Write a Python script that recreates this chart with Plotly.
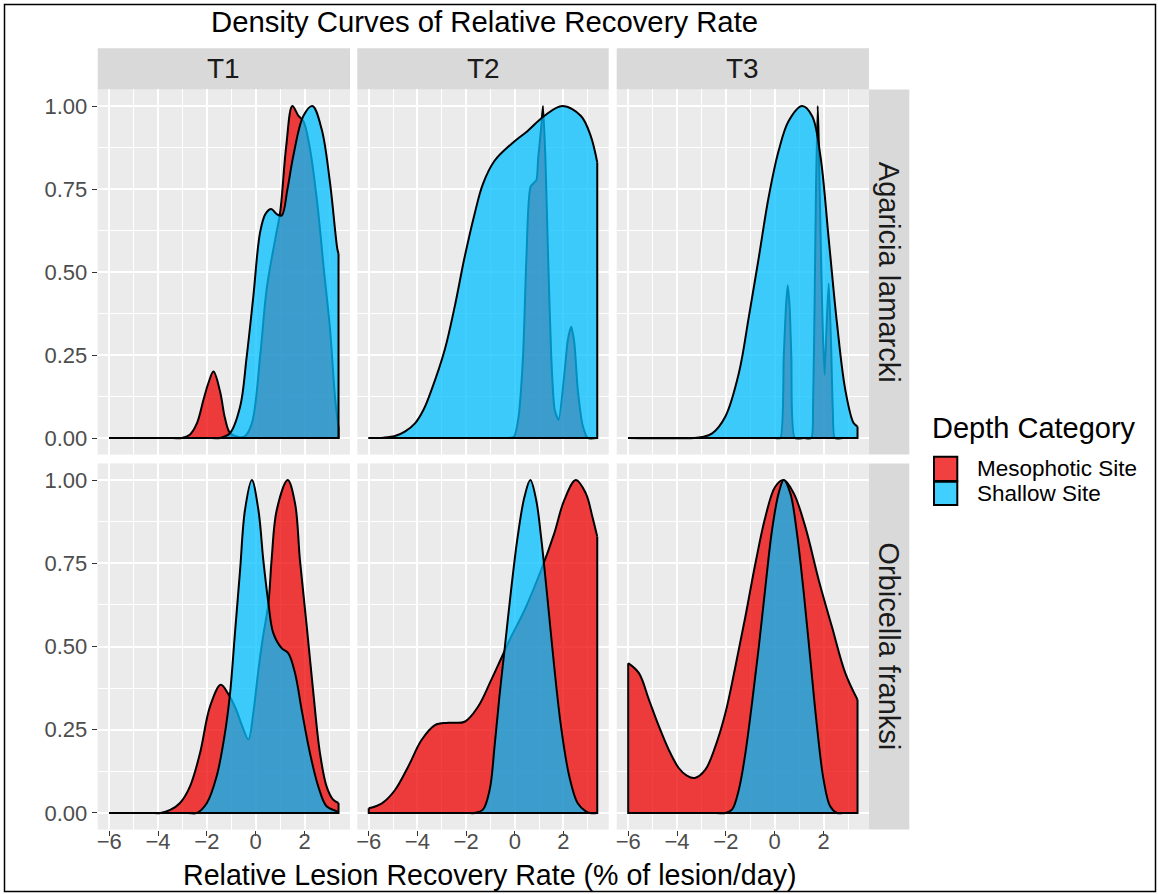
import plotly.graph_objects as go

# ---- density curves (scaled so each peak = 1) ----
# Agaricia lamarcki
A_T1_MESO_X = [-6.0, -3.4, -3.03, -2.7, -2.41, -2.14, -1.94, -1.73, -1.46, -1.26, -1.05, -0.7, -0.45, -0.16, 0.18, 0.45, 0.8, 1.0, 1.25, 1.5, 1.75, 1.95, 2.2, 2.5, 2.8, 3.04, 3.25, 3.39]
A_T1_MESO_Y = [0.0, 0.0, 0.0, 0.01, 0.044, 0.115, 0.165, 0.20, 0.14, 0.06, 0.015, 0.003, 0.005, 0.044, 0.245, 0.45, 0.60, 0.68, 0.88, 1.0, 0.97, 0.955, 0.88, 0.72, 0.5, 0.33, 0.12, 0.03]
A_T1_SHAL_X = [-6.0, -1.8, -1.46, -1.05, -0.64, -0.37, -0.1, 0.18, 0.4, 0.63, 0.85, 1.06, 1.3, 1.54, 1.95, 2.32, 2.7, 3.04, 3.34, 3.39]
A_T1_SHAL_Y = [0.0, 0.0, 0.0, 0.015, 0.094, 0.245, 0.425, 0.62, 0.675, 0.69, 0.675, 0.67, 0.75, 0.85, 0.97, 1.0, 0.93, 0.77, 0.57, 0.555]

A_T2_MESO_X = [-6.0, -0.6, -0.3, -0.03, 0.15, 0.34, 0.48, 0.65, 0.89, 0.96, 1.09, 1.16, 1.26, 1.37, 1.50, 1.64, 1.80, 2.04, 2.18, 2.32, 2.45, 2.59, 2.8, 3.0, 3.39]
A_T2_MESO_Y = [0.0, 0.0, 0.0, 0.004, 0.06, 0.245, 0.546, 0.757, 0.777, 0.84, 0.94, 1.0, 0.84, 0.546, 0.245, 0.085, 0.055, 0.195, 0.295, 0.335, 0.285, 0.145, 0.035, 0.0, 0.0]
A_T2_SHAL_X = [-6.0, -5.4, -4.92, -4.5, -4.1, -3.75, -3.42, -2.88, -2.47, -2.06, -1.65, -1.31, -0.83, -0.15, 0.53, 1.21, 1.96, 2.72, 3.12, 3.39]
A_T2_SHAL_Y = [0.0, 0.001, 0.006, 0.02, 0.044, 0.085, 0.145, 0.265, 0.395, 0.545, 0.675, 0.765, 0.835, 0.885, 0.925, 0.97, 1.0, 0.97, 0.91, 0.83]

A_T3_MESO_X = [-6.0, 0.0, 0.23, 0.37, 0.46, 0.53, 0.61, 0.68, 0.82, 1.2, 1.50, 1.57, 1.64, 1.69, 1.76, 1.80, 1.88, 1.96, 2.04, 2.12, 2.21, 2.30, 2.38, 2.46, 2.8, 3.39]
A_T3_MESO_Y = [0.0, 0.0, 0.0, 0.245, 0.395, 0.46, 0.395, 0.245, 0.0, 0.0, 0.0, 0.1, 0.45, 0.75, 1.0, 0.9, 0.6, 0.345, 0.19, 0.33, 0.465, 0.3, 0.08, 0.0, 0.0, 0.0]
A_T3_SHAL_X = [-6.0, -3.3, -2.97, -2.56, -2.02, -1.47, -1.06, -0.65, -0.25, 0.16, 0.57, 1.12, 1.53, 1.87, 2.21, 2.55, 2.89, 3.23, 3.39]
A_T3_SHAL_Y = [0.0, 0.0, 0.003, 0.014, 0.065, 0.195, 0.365, 0.545, 0.725, 0.865, 0.955, 1.0, 0.97, 0.85, 0.6, 0.345, 0.145, 0.045, 0.035]

# Orbicella franksi
O_T1_MESO_X = [-6.0, -4.3, -3.9, -3.5, -3.1, -2.69, -2.28, -1.87, -1.43, -1.12, -0.8, -0.55, -0.3, -0.1, 0.11, 0.3, 0.52, 0.65, 0.86, 1.31, 1.61, 1.81, 2.09, 2.36, 2.63, 2.9, 3.17, 3.39]
O_T1_MESO_Y = [0.0, 0.0, 0.0, 0.009, 0.03, 0.08, 0.18, 0.32, 0.385, 0.357, 0.31, 0.26, 0.221, 0.3, 0.43, 0.53, 0.63, 0.76, 0.91, 1.0, 0.93, 0.76, 0.56, 0.36, 0.18, 0.08, 0.04, 0.03]
O_T1_SHAL_X = [-6.0, -2.8, -2.41, -2.0, -1.6, -1.26, -1.05, -0.85, -0.64, -0.44, -0.16, 0.11, 0.31, 0.52, 0.72, 1.06, 1.33, 1.61, 1.88, 2.22, 2.56, 2.9, 3.31, 3.39]
O_T1_SHAL_Y = [0.0, 0.0, 0.0, 0.03, 0.11, 0.24, 0.36, 0.54, 0.73, 0.91, 1.0, 0.91, 0.76, 0.63, 0.54, 0.495, 0.48, 0.42, 0.31, 0.18, 0.08, 0.02, 0.005, 0.0]

O_T2_MESO_X = [-6.0, -5.46, -4.92, -4.38, -3.83, -3.28, -2.74, -2.06, -1.51, -0.97, -0.56, -0.15, 0.4, 1.08, 1.62, 2.03, 2.51, 2.92, 3.19, 3.39]
O_T2_MESO_Y = [0.014, 0.029, 0.069, 0.139, 0.219, 0.264, 0.271, 0.274, 0.319, 0.399, 0.464, 0.529, 0.609, 0.729, 0.839, 0.939, 1.0, 0.96, 0.89, 0.83]
O_T2_SHAL_X = [-6.0, -2.0, -1.65, -1.31, -1.03, -0.83, -0.63, -0.42, -0.15, 0.12, 0.4, 0.64, 0.88, 1.08, 1.35, 1.62, 1.9, 2.24, 2.58, 2.92, 3.1, 3.39]
O_T2_SHAL_Y = [0.0, 0.0, 0.0, 0.01, 0.07, 0.2, 0.35, 0.49, 0.67, 0.83, 0.95, 1.0, 0.94, 0.83, 0.64, 0.44, 0.26, 0.11, 0.03, 0.005, 0.0, 0.0]

O_T3_MESO_X = [-6.0, -5.56, -5.15, -4.74, -4.34, -3.93, -3.6, -3.27, -2.84, -2.43, -2.02, -1.61, -1.2, -0.79, -0.38, 0.02, 0.37, 0.78, 1.25, 1.8, 2.34, 2.89, 3.39]
O_T3_MESO_Y = [0.45, 0.42, 0.34, 0.26, 0.19, 0.135, 0.112, 0.105, 0.13, 0.2, 0.3, 0.44, 0.59, 0.75, 0.89, 0.98, 1.0, 0.96, 0.86, 0.7, 0.56, 0.42, 0.34]
O_T3_SHAL_X = [-6.0, -2.4, -2.02, -1.75, -1.47, -1.2, -0.93, -0.65, -0.38, -0.11, 0.16, 0.37, 0.64, 0.91, 1.19, 1.46, 1.73, 2.0, 2.27, 2.55, 2.8, 3.39]
O_T3_SHAL_Y = [0.0, 0.0, 0.0, 0.01, 0.07, 0.18, 0.33, 0.5, 0.68, 0.85, 0.96, 1.0, 0.96, 0.84, 0.66, 0.46, 0.26, 0.1, 0.02, 0.0, 0.0, 0.0]

TIMES = ["T1", "T2", "T3"]
SPECIES = ["Agaricia lamarcki", "Orbicella franksi"]
GROUPS = ["Mesophotic Site", "Shallow Site"]
X_TICKS = [-6, -4, -2, 0, 2]
Y_TICKS = [0, 0.25, 0.5, 0.75, 1.0]
Y_TICK_TEXT = ["0.00", "0.25", "0.50", "0.75", "1.00"]

PANELS = [
    [(A_T1_MESO_X, A_T1_MESO_Y, A_T1_SHAL_X, A_T1_SHAL_Y),
     (A_T2_MESO_X, A_T2_MESO_Y, A_T2_SHAL_X, A_T2_SHAL_Y),
     (A_T3_MESO_X, A_T3_MESO_Y, A_T3_SHAL_X, A_T3_SHAL_Y)],
    [(O_T1_MESO_X, O_T1_MESO_Y, O_T1_SHAL_X, O_T1_SHAL_Y),
     (O_T2_MESO_X, O_T2_MESO_Y, O_T2_SHAL_X, O_T2_SHAL_Y),
     (O_T3_MESO_X, O_T3_MESO_Y, O_T3_SHAL_X, O_T3_SHAL_Y)],
]
# sharper curves get a lighter spline smoothing
SPIKY = {(0, 1), (0, 2)}

W, H = 1158, 894
FONT = "Liberation Sans, Arial, sans-serif"
FILL = {"Mesophotic Site": "rgba(238,0,0,0.75)", "Shallow Site": "rgba(0,191,255,0.75)"}
PANEL_BG = "#EBEBEB"
STRIP_BG = "#D9D9D9"

# panel geometry in pixels
COL_X = [(97.7, 350.0), (357.3, 608.7), (616.7, 869.0)]
ROW_Y = [(89.4, 454.6), (463.4, 829.6)]
STRIP_TOP = (48.3, 89.4)
STRIP_RIGHT = (869.0, 909.3)


def px(x):
    return x / W


def py(y):
    return 1 - y / H


fig = go.Figure()
layout = dict(
    width=W, height=H,
    margin=dict(l=0, r=0, t=0, b=0),
    paper_bgcolor="white", plot_bgcolor=PANEL_BG,
    showlegend=False,
    font=dict(family=FONT, color="#1A1A1A"),
)
shapes = []
annotations = []

for r in range(2):
    for c in range(3):
        idx = r * 3 + c + 1
        sfx = "" if idx == 1 else str(idx)
        xa, ya = "x" + sfx, "y" + sfx
        mx, my, sx, sy = PANELS[r][c]
        for k, (gx, gy, grp) in enumerate(((mx, my, GROUPS[0]), (sx, sy, GROUPS[1]))):
            sm = 0.6 if ((r, c) in SPIKY and k == 0) else 1.0
            fig.add_trace(go.Scatter(
                x=gx, y=gy, xaxis=xa, yaxis=ya, mode="lines",
                fill="tozeroy", fillcolor=FILL[grp],
                line=dict(color="black", width=2, shape="spline", smoothing=sm),
                hoverinfo="skip", name=grp,
            ))
            # closing edges of the density polygon
            fig.add_trace(go.Scatter(
                x=[gx[-1], gx[-1], gx[0], gx[0]], y=[gy[-1], 0, 0, gy[0]],
                xaxis=xa, yaxis=ya, mode="lines",
                line=dict(color="black", width=2), hoverinfo="skip",
            ))
        x0, x1 = COL_X[c]
        y0, y1 = ROW_Y[r]
        layout["xaxis" + sfx] = dict(
            domain=[px(x0), px(x1)], anchor=ya, range=[-6.47, 3.86],
            tickvals=X_TICKS, showticklabels=(r == 1),
            ticks="outside" if r == 1 else "", ticklen=5, tickcolor="#333333",
            tickfont=dict(family=FONT, size=22, color="#4D4D4D"),
            ticklabelstandoff=-13,
            showgrid=True, gridcolor="white", gridwidth=2,
            minor=dict(dtick=1, tick0=-6, showgrid=True, gridcolor="white", gridwidth=1),
            zeroline=False, showline=False, fixedrange=True,
        )
        layout["yaxis" + sfx] = dict(
            domain=[py(y1), py(y0)], anchor=xa, range=[-0.05, 1.05],
            tickvals=Y_TICKS, ticktext=Y_TICK_TEXT, showticklabels=(c == 0),
            ticks="outside" if c == 0 else "", ticklen=5, tickcolor="#333333",
            tickfont=dict(family=FONT, size=22, color="#4D4D4D"),
            showgrid=True, gridcolor="white", gridwidth=2,
            minor=dict(dtick=0.125, tick0=0, showgrid=True, gridcolor="white", gridwidth=1),
            zeroline=False, showline=False, fixedrange=True,
        )

# strips
for c, label in enumerate(TIMES):
    x0, x1 = COL_X[c]
    shapes.append(dict(type="rect", xref="paper", yref="paper", x0=px(x0), x1=px(x1),
                       y0=py(STRIP_TOP[1]), y1=py(STRIP_TOP[0]), fillcolor=STRIP_BG,
                       line=dict(width=0), layer="below"))
    annotations.append(dict(xref="paper", yref="paper", x=px((x0 + x1) / 2),
                            y=py(sum(STRIP_TOP) / 2), text=label, showarrow=False,
                            font=dict(family=FONT, size=28, color="#1A1A1A"),
                            xanchor="center", yanchor="middle"))
for r, label in enumerate(SPECIES):
    y0, y1 = ROW_Y[r]
    shapes.append(dict(type="rect", xref="paper", yref="paper", x0=px(STRIP_RIGHT[0]),
                       x1=px(STRIP_RIGHT[1]), y0=py(y1), y1=py(y0), fillcolor=STRIP_BG,
                       line=dict(width=0), layer="below"))
    annotations.append(dict(xref="paper", yref="paper", x=px(sum(STRIP_RIGHT) / 2),
                            y=py((y0 + y1) / 2), text=label, showarrow=False, textangle=90,
                            font=dict(family=FONT, size=29, color="#1A1A1A"),
                            xanchor="center", yanchor="middle"))

# titles
annotations.append(dict(xref="paper", yref="paper", x=px(484), y=py(21),
                        text="Density Curves of Relative Recovery Rate", showarrow=False,
                        font=dict(family=FONT, size=29.3, color="black"),
                        xanchor="center", yanchor="middle"))
annotations.append(dict(xref="paper", yref="paper", x=px(489), y=py(875),
                        text="Relative Lesion Recovery Rate (% of lesion/day)", showarrow=False,
                        font=dict(family=FONT, size=28.6, color="black"),
                        xanchor="center", yanchor="middle"))

# legend
annotations.append(dict(xref="paper", yref="paper", x=px(930), y=py(428),
                        text="Depth Category", showarrow=False,
                        font=dict(family=FONT, size=29, color="black"),
                        xanchor="left", yanchor="middle"))
KEY_Y = [(456.7, 481.0), (481.7, 505.0)]
for i, grp in enumerate(GROUPS):
    k0, k1 = KEY_Y[i]
    shapes.append(dict(type="rect", xref="paper", yref="paper", x0=px(934), x1=px(957.3),
                       y0=py(k1), y1=py(k0), fillcolor=FILL[grp],
                       line=dict(color="black", width=2)))
    annotations.append(dict(xref="paper", yref="paper", x=px(975), y=py((k0 + k1) / 2),
                            text=grp, showarrow=False,
                            font=dict(family=FONT, size=22.5, color="black"),
                            xanchor="left", yanchor="middle"))

# outer frame
shapes.append(dict(type="rect", xref="paper", yref="paper", x0=px(4.5), x1=px(1155.5),
                   y0=py(891.5), y1=py(4.5), line=dict(color="black", width=1.5),
                   fillcolor="rgba(0,0,0,0)"))

layout["shapes"] = shapes
layout["annotations"] = annotations
fig.update_layout(**layout)
fig.write_html("out.html")
